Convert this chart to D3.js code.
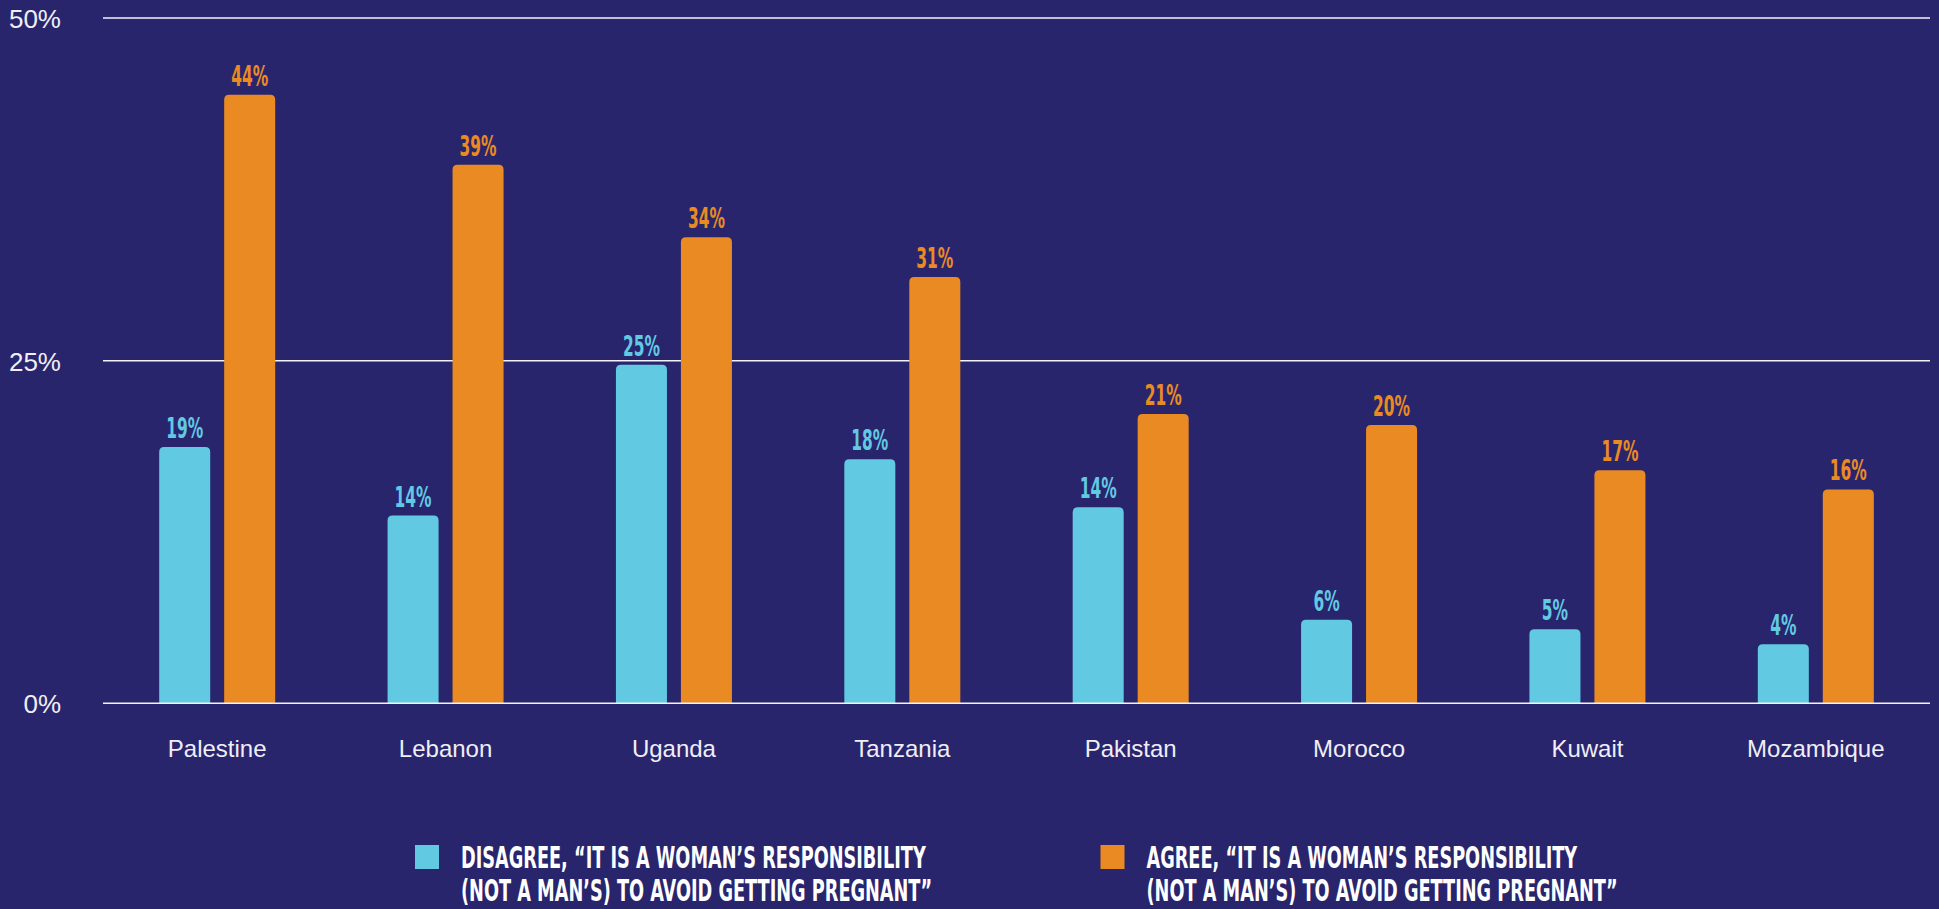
<!DOCTYPE html>
<html>
<head>
<meta charset="utf-8">
<script src="https://cdn.jsdelivr.net/npm/d3@7"></script>
<style>
  body { margin: 0; background: #29256d; }
  svg { display: block; }
</style>
</head>
<body>
<svg width="1939" height="909"></svg>
<script>
// data
const countries = ["Palestine", "Lebanon", "Uganda", "Tanzania", "Pakistan", "Morocco", "Kuwait", "Mozambique"];
const disagree = [18.7, 13.7, 24.7, 17.8, 14.3, 6.1, 5.4, 4.3];
const agree = [44.4, 39.3, 34.0, 31.1, 21.1, 20.3, 17.0, 15.6];
const yTicks = [0, 25, 50];
const seriesNames = ["disagree", "agree"];
const legendLines = [
  ["DISAGREE, \u201CIT IS A WOMAN\u2019S RESPONSIBILITY", "(NOT A MAN\u2019S) TO AVOID GETTING PREGNANT\u201D"],
  ["AGREE, \u201CIT IS A WOMAN\u2019S RESPONSIBILITY", "(NOT A MAN\u2019S) TO AVOID GETTING PREGNANT\u201D"]
];

const colors = { disagree: "#62c9e2", agree: "#e98b22" };
const condensed = "'Liberation Sans Narrow', 'DejaVu Sans Condensed', 'Roboto Condensed', sans-serif";

const svg = d3.select("svg");

// how much to squeeze the condensed font so a sample string has the wanted width
function squeeze(sample, size, wanted) {
  const t = svg.append("text")
    .attr("font-family", condensed).attr("font-weight", "bold")
    .attr("font-size", size).text(sample);
  const w = t.node().getComputedTextLength();
  t.remove();
  return wanted / w;
}
const kLabel = squeeze("44%", 28, 37);
const kLegend = squeeze(legendLines[0][0], 31, 465);

const x0 = d3.scaleBand().domain(countries).range([103, 1930]).padding(0);
const groupW = 116;
const x1 = d3.scaleBand().domain(seriesNames)
  .range([(x0.bandwidth() - groupW) / 2, (x0.bandwidth() + groupW) / 2])
  .paddingInner(0.215).paddingOuter(0);
const y = d3.scaleLinear().domain([0, 50]).range([703.3, 18]);

// gridlines + y labels
svg.append("g").selectAll("line").data(yTicks.filter(d => d > 0)).enter().append("line")
  .attr("x1", 103).attr("x2", 1930)
  .attr("y1", d => y(d)).attr("y2", d => y(d))
  .attr("stroke", "#f4f2fa").attr("stroke-width", 1.5);

svg.append("g").selectAll("text").data(yTicks).enter().append("text")
  .attr("x", 61).attr("y", d => y(d) + 10)
  .attr("text-anchor", "end")
  .attr("font-family", "'Liberation Sans', Arial, sans-serif")
  .attr("font-size", 26)
  .attr("fill", "#f0eef6")
  .text(d => d + "%");

// rounded-top bar path
function barPath(x, yTop, w, yBase, r) {
  r = Math.min(r, (yBase - yTop) / 2, w / 2);
  return `M${x},${yBase}V${yTop + r}Q${x},${yTop} ${x + r},${yTop}H${x + w - r}Q${x + w},${yTop} ${x + w},${yTop + r}V${yBase}Z`;
}

const rows = countries.map((c, i) => ({ country: c, disagree: disagree[i], agree: agree[i] }));

const groups = svg.append("g").selectAll("g").data(rows).enter().append("g")
  .attr("transform", d => `translate(${x0(d.country)},0)`);

const cells = groups.selectAll("g").data(d => seriesNames.map(k => ({ key: k, value: d[k] }))).enter().append("g");

cells.append("path")
  .attr("d", d => barPath(x1(d.key), y(d.value), x1.bandwidth(), y(0), 5))
  .attr("fill", d => colors[d.key]);

cells.append("text")
  .attr("transform", d => `translate(${x1(d.key) + x1.bandwidth() / 2},${y(d.value) - 9}) scale(${kLabel},1)`)
  .attr("text-anchor", "middle")
  .attr("font-family", condensed)
  .attr("font-weight", "bold")
  .attr("font-size", 28)
  .attr("fill", d => colors[d.key])
  .text(d => Math.round(d.value) + "%");

// baseline on top
svg.append("line")
  .attr("x1", 103).attr("x2", 1930)
  .attr("y1", y(0)).attr("y2", y(0))
  .attr("stroke", "#f4f2fa").attr("stroke-width", 1.5);

// x labels
svg.append("g").selectAll("text").data(countries).enter().append("text")
  .attr("x", d => x0(d) + x0.bandwidth() / 2)
  .attr("y", 757)
  .attr("text-anchor", "middle")
  .attr("font-family", "'Liberation Sans', Arial, sans-serif")
  .attr("font-size", 24)
  .attr("fill", "#f0eef6")
  .text(d => d);

// legend
const legendX = [415, 1100.5];
const legend = svg.append("g").selectAll("g").data(seriesNames).enter().append("g")
  .attr("transform", (d, i) => `translate(${legendX[i]},845)`);

legend.append("rect")
  .attr("width", 24).attr("height", 24)
  .attr("fill", d => colors[d]);

legend.each(function(d, i) {
  const g = d3.select(this);
  legendLines[i].forEach((line, j) => {
    g.append("text")
      .attr("transform", `translate(46,${23 + j * 33}) scale(${kLegend},1)`)
      .attr("font-family", condensed)
      .attr("font-weight", "bold")
      .attr("font-size", 31)
      .attr("fill", "#ffffff")
      .text(line);
  });
});
</script>
</body>
</html>
